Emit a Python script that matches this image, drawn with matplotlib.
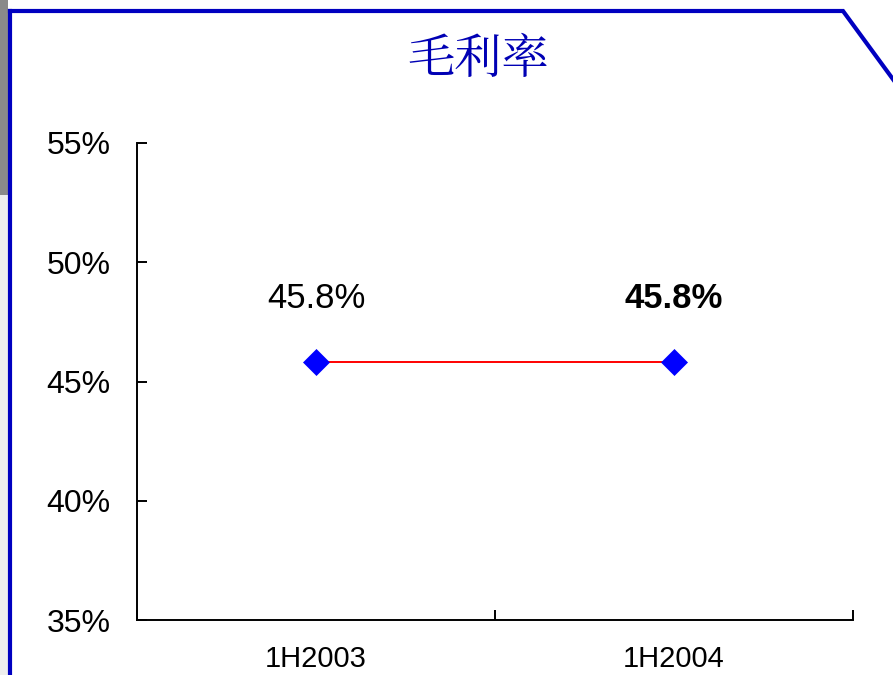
import matplotlib
matplotlib.use("Agg")
import matplotlib.pyplot as plt
from matplotlib.lines import Line2D
from matplotlib.patches import Rectangle
from matplotlib.ticker import FuncFormatter

title = "毛利率"
categories = ["1H2003", "1H2004"]
values = [45.8, 45.8]
labels = ["45.8%", "45.8%"]
label_bold = [False, True]
yticks = [35, 40, 45, 50, 55]

W, H = 893, 675
fig = plt.figure(figsize=(W / 100, H / 100), dpi=100)
fig.patch.set_facecolor("white")

def fx(px):
    return px / W

def fy(py):
    return 1 - py / H

# decorative frame
fig.add_artist(Rectangle((0, fy(195)), fx(8), 1 - fy(195), transform=fig.transFigure,
                         facecolor="#8a8a8a", edgecolor="none"))
fig.add_artist(Rectangle((0, 0), fx(8), fy(195), transform=fig.transFigure,
                         facecolor="#eeeeee", edgecolor="none"))
blue = "#0000c0"
fig.add_artist(Line2D([fx(10), fx(10)], [0, fy(11)], transform=fig.transFigure, color=blue, lw=3))
fig.add_artist(Line2D([fx(10), fx(843), fx(895)], [fy(11), fy(11), fy(82)],
                      transform=fig.transFigure, color=blue, lw=3, solid_joinstyle="miter"))

ax = fig.add_axes([fx(137), fy(620), fx(853) - fx(137), fy(143) - fy(620)])
ax.set_facecolor("none")
x = [i + 0.5 for i in range(len(categories))]
ax.plot(x, values, color="#ff0000", lw=1.4, marker="D", markersize=13.5,
        markerfacecolor="#0000ff", markeredgecolor="#0000ff", markeredgewidth=0.5, zorder=3)

for xi, v, lab, b in zip(x, values, labels, label_bold):
    ax.annotate(lab, (xi, v), xytext=(0, 46), textcoords="offset points",
                ha="center", va="center", fontsize=25,
                fontweight="bold" if b else "normal",
                family=["Liberation Sans", "DejaVu Sans"], color="black")

ax.set_xlim(0, len(categories))
ax.set_ylim(35, 55)
ax.set_yticks(yticks)
ax.yaxis.set_major_formatter(FuncFormatter(lambda v, p: f"{v:.0f}%"))
ax.set_xticks(range(len(categories) + 1))
ax.set_xticklabels([])
ax.set_xticks(x, minor=True)
ax.set_xticklabels(categories, minor=True)

for s in ["top", "right"]:
    ax.spines[s].set_visible(False)
for s in ["left", "bottom"]:
    ax.spines[s].set_linewidth(1.4)
    ax.spines[s].set_color("black")

ax.tick_params(axis="y", direction="in", length=7, width=1.4, pad=19, labelsize=23)
ax.tick_params(axis="x", which="major", direction="in", length=7, width=1.4)
ax.tick_params(axis="x", which="minor", length=0, pad=18, labelsize=21)
for t in ax.get_yticklabels():
    t.set_family(["Liberation Sans", "DejaVu Sans"])
for t in ax.get_xticklabels(minor=True):
    t.set_family(["Liberation Sans", "DejaVu Sans"])

fig.text(fx(478), fy(60), title, ha="center", va="center", fontsize=34, color="#0000b4",
         family=["Noto Serif CJK SC", "Noto Sans CJK SC", "DejaVu Sans"])

fig.savefig("out.png", dpi=100)
